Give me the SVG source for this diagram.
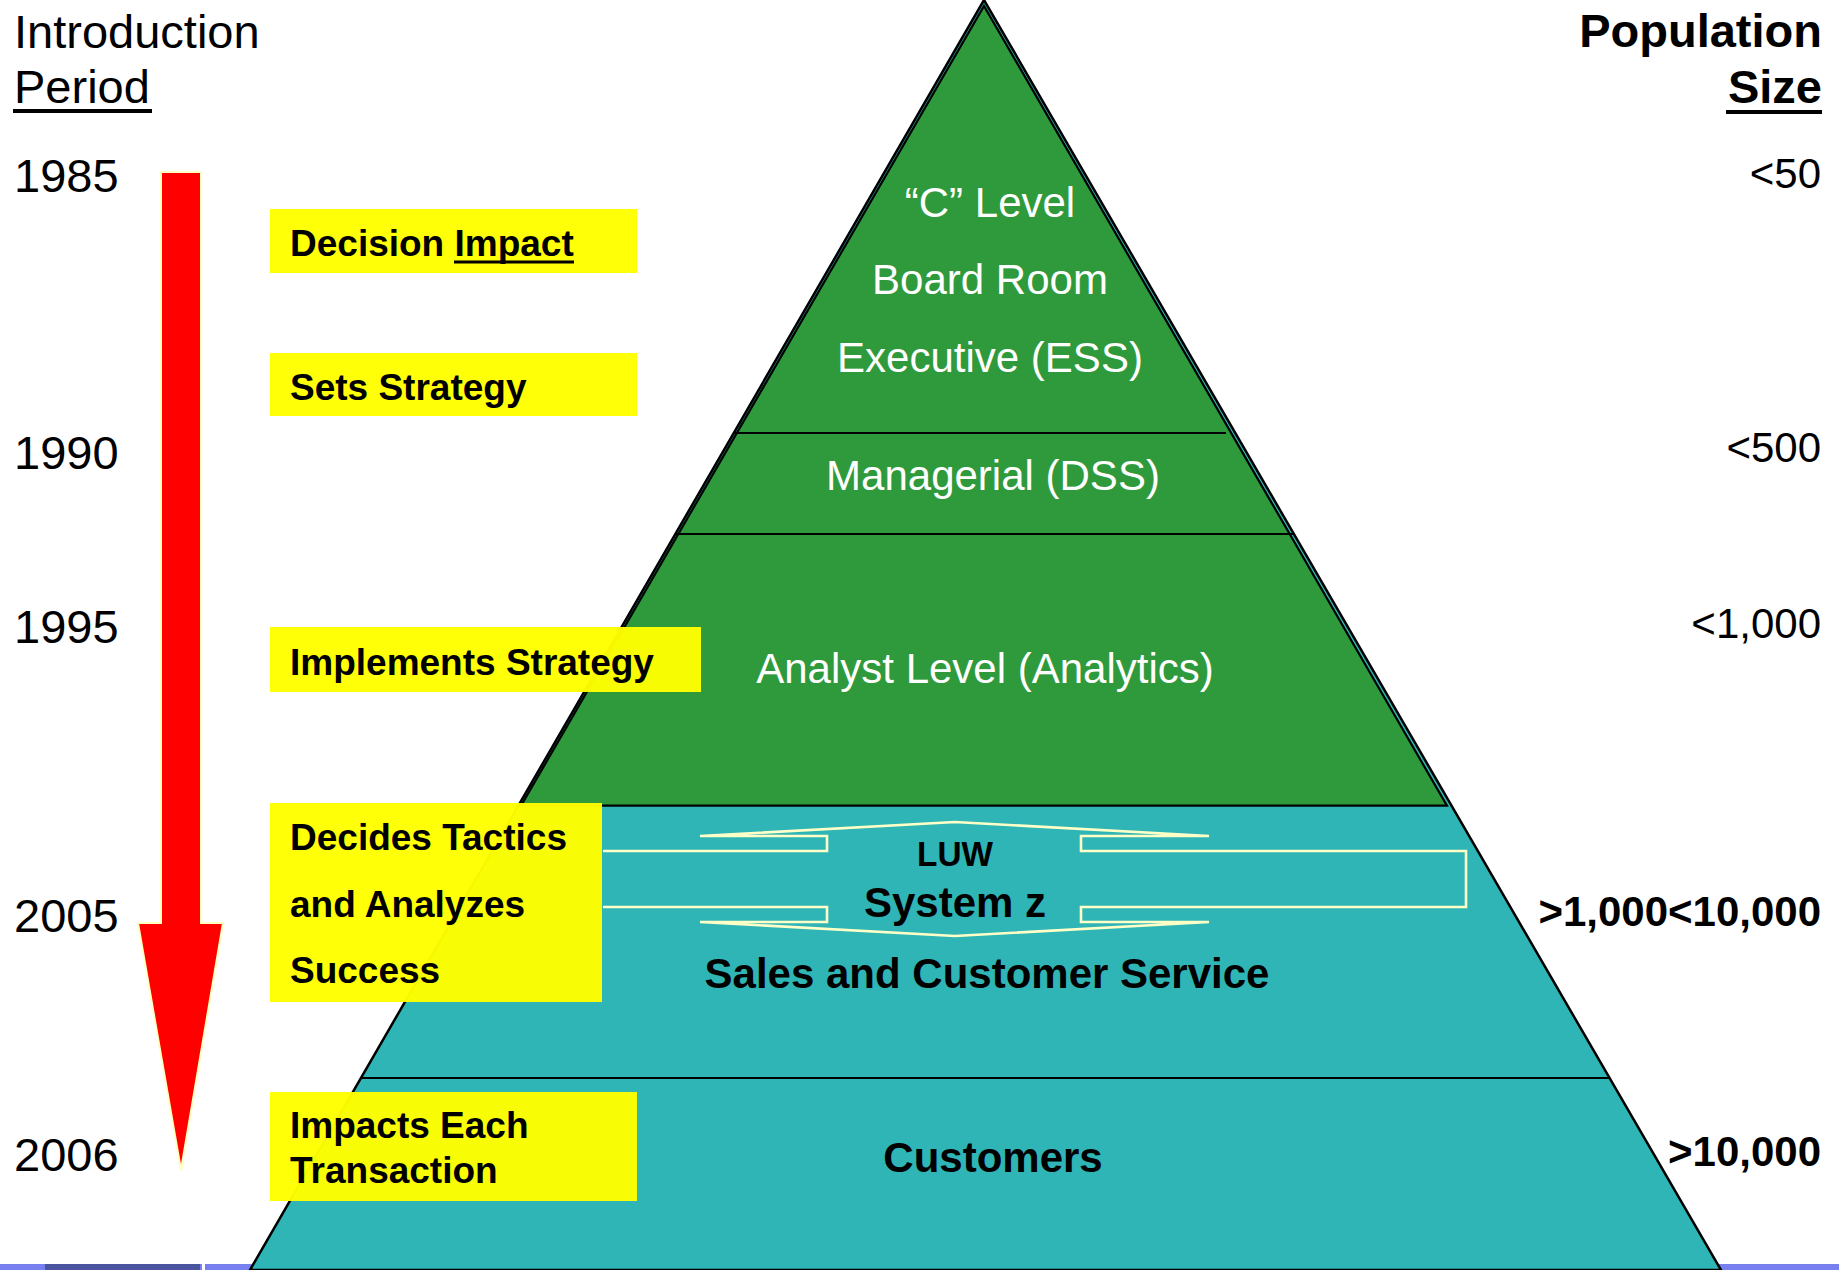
<svg xmlns="http://www.w3.org/2000/svg" width="1839" height="1270" viewBox="0 0 1839 1270">
<style>
.lbl{font-family:"Liberation Sans",Arial,sans-serif;font-size:47px;fill:#000}
.yr{font-family:"Liberation Sans",Arial,sans-serif;font-size:47px;fill:#000}
.pop{font-family:"Liberation Sans",Arial,sans-serif;font-size:42px;fill:#000;text-anchor:end}
.b{font-weight:bold}
.wt{font-family:"Liberation Sans",Arial,sans-serif;font-size:42px;fill:#fff;text-anchor:middle}
.bt{font-family:"Liberation Sans",Arial,sans-serif;font-size:42px;font-weight:bold;fill:#000;text-anchor:middle}
.sm{font-size:35px}
.yt{font-family:"Liberation Sans",Arial,sans-serif;font-size:37px;font-weight:bold;fill:#000}
.ybox{fill:#ffff00;fill-opacity:0.97}
.div{stroke:#000;stroke-width:2.2;fill:none}
.ul{stroke:#000;stroke-width:4}
</style>
<rect width="1839" height="1270" fill="#fff"/>
<g id="bottom-strip">
<rect x="0" y="1264" width="1839" height="6" fill="#7880f0"/>
<rect x="45" y="1264" width="155" height="6" fill="#4b559f"/>
<rect x="202" y="1264" width="3" height="6" fill="#fff"/>
</g>
<g id="pyramid">
<polygon points="984,0 1721,1270 250,1270" fill="#2fb5b5" stroke="#000" stroke-width="2.5"/>
<polygon points="984,6 1447,805.7 521,805.7" fill="#2f9a3c" stroke="#000" stroke-width="2.2"/>
<line class="div" x1="734" y1="433" x2="1226" y2="433"/>
<line class="div" x1="675" y1="534" x2="1294" y2="534"/>
<line class="div" x1="361" y1="1078" x2="1609" y2="1078"/>
</g>
<g id="connectors">
<polyline points="603,851 827,851 827,836 700,836 955,822 1209,836 1081,836 1081,851 1466,851 1466,907 1081,907 1081,922 1209,922 955,936 700,922 827,922 827,907 603,907" fill="none" stroke="#ffffc8" stroke-width="2.6"/>
</g>
<g id="arrow">
<polygon points="161,172 201,172 201,923 223,923 181,1170 138,923 161,923" fill="#ff0000" stroke="#ffffc0" stroke-width="2"/>
</g>
<g id="headers">
<text class="lbl" x="14" y="48">Introduction</text>
<text class="lbl" x="14" y="103">Period</text>
<line class="ul" x1="13" y1="111" x2="152" y2="111"/>
<text class="lbl b" x="1822" y="47" text-anchor="end">Population</text>
<text class="lbl b" x="1822" y="103" text-anchor="end">Size</text>
<line class="ul" x1="1726" y1="112" x2="1822" y2="112"/>
</g>
<g id="years">
<text class="yr" x="14" y="192">1985</text>
<text class="yr" x="14" y="469">1990</text>
<text class="yr" x="14" y="643">1995</text>
<text class="yr" x="14" y="932">2005</text>
<text class="yr" x="14" y="1171">2006</text>
</g>
<g id="population">
<text class="pop" x="1821" y="188">&lt;50</text>
<text class="pop" x="1821" y="462">&lt;500</text>
<text class="pop" x="1821" y="638">&lt;1,000</text>
<text class="pop b" x="1821" y="926">&gt;1,000&lt;10,000</text>
<text class="pop b" x="1821" y="1166">&gt;10,000</text>
</g>
<g id="level-c">
<text class="wt" x="990" y="217">“C” Level</text>
<text class="wt" x="990" y="294">Board Room</text>
<text class="wt" x="990" y="372">Executive (ESS)</text>
</g>
<g id="level-managerial">
<text class="wt" x="993" y="490">Managerial (DSS)</text>
</g>
<g id="level-analyst">
<text class="wt" x="985" y="683">Analyst Level (Analytics)</text>
</g>
<g id="level-sales">
<text class="bt sm" x="955" y="866" textLength="76" lengthAdjust="spacingAndGlyphs">LUW</text>
<text class="bt" x="955" y="917">System z</text>
<text class="bt" x="987" y="988">Sales and Customer Service</text>
</g>
<g id="level-customers">
<text class="bt" x="993" y="1172">Customers</text>
</g>
<g id="box-decision">
<rect class="ybox" x="270" y="209" width="367" height="64"/>
<text class="yt" x="290" y="256">Decision Impact</text>
<line x1="454" y1="262" x2="574" y2="262" stroke="#000" stroke-width="3"/>
</g>
<g id="box-sets">
<rect class="ybox" x="270" y="353" width="367" height="63"/>
<text class="yt" x="290" y="400">Sets Strategy</text>
</g>
<g id="box-implements">
<rect class="ybox" x="270" y="627" width="431" height="65"/>
<text class="yt" x="290" y="675">Implements Strategy</text>
</g>
<g id="box-decides">
<rect class="ybox" x="270" y="803" width="332" height="199"/>
<text class="yt" x="290" y="850">Decides Tactics</text>
<text class="yt" x="290" y="917">and Analyzes</text>
<text class="yt" x="290" y="983">Success</text>
</g>
<g id="box-impacts">
<rect class="ybox" x="270" y="1092" width="367" height="109"/>
<text class="yt" x="290" y="1138">Impacts Each</text>
<text class="yt" x="290" y="1183">Transaction</text>
</g>
</svg>
